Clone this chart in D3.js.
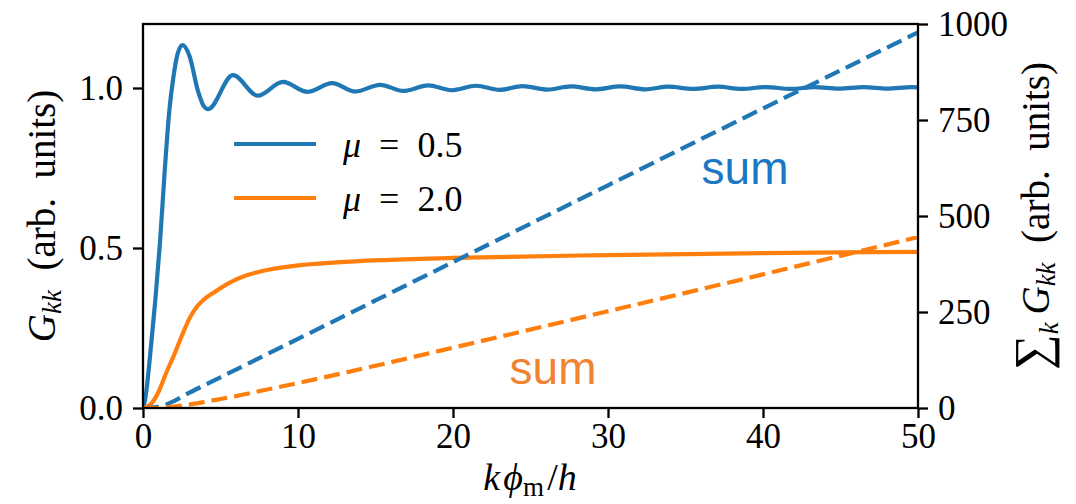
<!DOCTYPE html>
<html>
<head>
<meta charset="utf-8">
<script src="https://cdn.jsdelivr.net/npm/d3@7"></script>
<style>
  body { margin: 0; background: #fff; }
  text { font-family: "Liberation Serif", "DejaVu Serif", serif; fill: #000; }
</style>
</head>
<body>
<svg id="chart" width="1076" height="504"></svg>
<script>
// Diagonal element G_kk versus k·phi_m/h for two values of mu
const kBlue = [0, 0.15, 0.45, 0.8, 1.1, 1.4, 1.7, 1.95, 2.25, 2.56, 3.0, 3.55, 3.9, 4.2,
  5.8, 7.4, 9.03, 10.6, 12.2, 13.7, 15.3, 16.8, 18.4, 19.9, 21.5, 23.0, 24.5, 26.1,
  27.6, 29.2, 30.8, 32.4, 33.9, 35.5, 37.1, 38.6, 40.2, 41.8, 43.3, 44.9, 46.5, 48.0, 49.6, 50];
const gBlue = [0, 0.03, 0.16, 0.34, 0.52, 0.74, 0.93, 1.03, 1.11, 1.134, 1.10, 0.99, 0.945, 0.934,
  1.040, 0.976, 1.019, 0.988, 1.015, 0.989, 1.010, 0.991, 1.008, 0.993, 1.007, 0.994, 1.006, 0.995,
  1.005, 0.996, 1.005, 0.996, 1.004, 0.997, 1.004, 0.997, 1.003, 0.997, 1.003, 0.998, 1.003, 0.998, 1.003, 1.002];

const kOrange = [0, 0.5, 1.0, 1.5, 2.0, 2.5, 3.0, 3.5, 4.0, 4.6, 5.6, 6.6, 7.7, 9.9, 12.5, 15.3, 20, 30, 40, 50];
const gOrange = [0, 0.012, 0.05, 0.11, 0.165, 0.225, 0.28, 0.318, 0.342, 0.362, 0.392, 0.413, 0.428, 0.445, 0.455, 0.462, 0.469, 0.478, 0.484, 0.488];

// Running sums over k (right axis)
const kSum = [0, 1, 2, 3, 4, 5, 6, 8, 10, 15, 20, 30, 40, 50];
const sumBlue = [0, 3, 18, 40, 60, 80, 100, 140, 180, 280, 380, 580, 780, 978];
const sumOrange = [0, 0.6, 3.6, 9, 16, 23.5, 31, 48, 65, 110, 157, 252, 348, 445];

const xTicks = [0, 10, 20, 30, 40, 50];
const yTicksLeft = [0.0, 0.5, 1.0];
const yTicksRight = [0, 250, 500, 750, 1000];

const seriesNames = ["0.5", "2.0"];
const colors = ["#1f77b4", "#ff7f0e"];
const textColors = ["#1b77c4", "#f08433"];

const svg = d3.select("#chart");
const m = { left: 143, right: 918, top: 24, bottom: 408 };

const x = d3.scaleLinear().domain([0, 50]).range([m.left, m.right]);
const yL = d3.scaleLinear().domain([0, 1.2]).range([m.bottom, m.top]);
const yR = d3.scaleLinear().domain([0, 1000]).range([m.bottom, m.top]);

const lineL = d3.line().curve(d3.curveMonotoneX).x(d => x(d[0])).y(d => yL(d[1]));
const lineR = d3.line().curve(d3.curveMonotoneX).x(d => x(d[0])).y(d => yR(d[1]));

const plot = svg.append("g");
plot.append("clipPath").attr("id", "clip").append("rect")
  .attr("x", m.left).attr("y", m.top).attr("width", m.right - m.left).attr("height", m.bottom - m.top);
const body = plot.append("g").attr("clip-path", "url(#clip)");

// solid G_kk curves
[[kBlue, gBlue], [kOrange, gOrange]].forEach(([ks, gs], i) => {
  body.append("path")
    .datum(ks.map((k, j) => [k, gs[j]]))
    .attr("d", lineL).attr("fill", "none")
    .attr("stroke", colors[i]).attr("stroke-width", 4.2).attr("stroke-linecap", "butt");
});
// dashed running sums
[sumBlue, sumOrange].forEach((s, i) => {
  body.append("path")
    .datum(kSum.map((k, j) => [k, s[j]]))
    .attr("d", lineR).attr("fill", "none")
    .attr("stroke", colors[i]).attr("stroke-width", 4.2)
    .attr("stroke-dasharray", "16,7");
});

// frame
svg.append("rect").attr("x", m.left).attr("y", m.top)
  .attr("width", m.right - m.left).attr("height", m.bottom - m.top)
  .attr("fill", "none").attr("stroke", "#000").attr("stroke-width", 2.3);

const fs = 35;
function styleAxis(g) {
  g.select(".domain").remove();
  g.selectAll(".tick line").attr("stroke", "#000").attr("stroke-width", 2.3);
  g.selectAll(".tick text").attr("font-size", fs).attr("font-family", "Liberation Serif");
}
svg.append("g").attr("transform", `translate(0,${m.bottom})`)
  .call(d3.axisBottom(x).tickValues(xTicks).tickSize(10).tickPadding(5).tickFormat(d3.format("d")))
  .call(styleAxis);
svg.append("g").attr("transform", `translate(${m.left},0)`)
  .call(d3.axisLeft(yL).tickValues(yTicksLeft).tickSize(10).tickPadding(10).tickFormat(d3.format(".1f")))
  .call(styleAxis);
svg.append("g").attr("transform", `translate(${m.right},0)`)
  .call(d3.axisRight(yR).tickValues(yTicksRight).tickSize(10).tickPadding(10).tickFormat(d3.format("d")))
  .call(styleAxis);

// axis titles
const lfs = 39, sub = 27;
const xl = svg.append("text").attr("x", 530).attr("y", 490)
  .attr("text-anchor", "middle").attr("font-size", 38);
xl.append("tspan").attr("font-style", "italic").text("k\u200Aϕ");
xl.append("tspan").attr("font-size", sub).attr("dy", 6).text("m");
xl.append("tspan").attr("dy", -6).text("\u200A/");
xl.append("tspan").attr("font-style", "italic").text("h");

const ylab = svg.append("text")
  .attr("transform", `translate(55,${(m.top + m.bottom) / 2}) rotate(-90)`)
  .attr("text-anchor", "middle").attr("font-size", lfs);
ylab.append("tspan").attr("font-style", "italic").text("G");
ylab.append("tspan").attr("font-style", "italic").attr("font-size", sub).attr("dy", 6).text("kk");
ylab.append("tspan").attr("dy", -6).text("\u2002(arb.\u2002units)");

const yrlab = svg.append("text")
  .attr("transform", `translate(1049,${(m.top + m.bottom) / 2}) rotate(-90)`)
  .attr("text-anchor", "middle").attr("font-size", lfs);
yrlab.append("tspan").attr("font-size", 50).text("\u2211");
yrlab.append("tspan").attr("font-style", "italic").attr("font-size", sub).attr("dy", 9).text("k");
yrlab.append("tspan").attr("font-style", "italic").attr("dy", -9).text("\u2009G");
yrlab.append("tspan").attr("font-style", "italic").attr("font-size", sub).attr("dy", 6).text("kk");
yrlab.append("tspan").attr("dy", -6).text("\u2002(arb.\u2002units)");

// legend
const leg = svg.append("g");
seriesNames.forEach((name, i) => {
  const yy = 144 + i * 54;
  leg.append("line").attr("x1", 234).attr("x2", 316).attr("y1", yy).attr("y2", yy)
    .attr("stroke", colors[i]).attr("stroke-width", 4.2);
  const t = leg.append("text").attr("x", 343).attr("y", yy + 13).attr("font-size", 36);
  t.append("tspan").attr("font-style", "italic").text("μ");
  t.append("tspan").text("\u2002=\u2002" + name);
});

// "sum" annotations
svg.append("text").attr("x", 745).attr("y", 184).attr("text-anchor", "middle")
  .style("font-family", "Liberation Sans, Arial, sans-serif").attr("font-size", 46)
  .style("fill", textColors[0]).text("sum");
svg.append("text").attr("x", 553).attr("y", 384).attr("text-anchor", "middle")
  .style("font-family", "Liberation Sans, Arial, sans-serif").attr("font-size", 46)
  .style("fill", textColors[1]).text("sum");
</script>
</body>
</html>
